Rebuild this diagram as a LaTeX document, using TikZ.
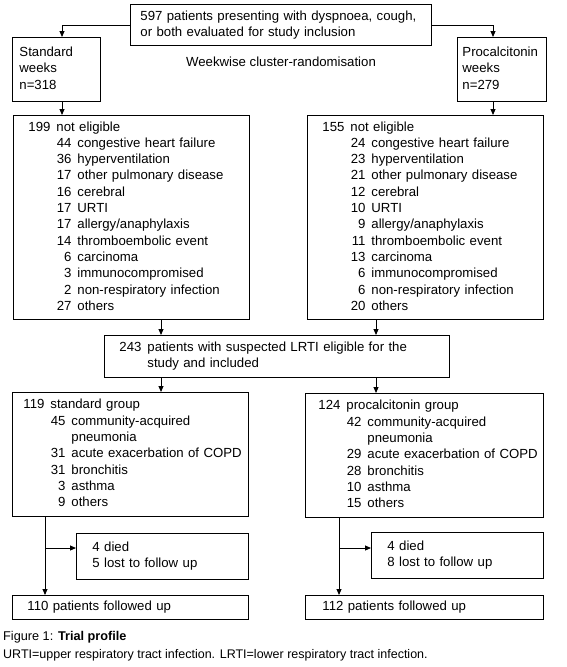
\documentclass[tikz,border=0pt]{standalone}
\usepackage{fontspec}
\setmainfont{Liberation Sans}
\usetikzlibrary{arrows.meta,calc}
\newcommand{\mainfs}{\fontsize{13.2}{16.3}\selectfont}
\newcommand{\hdline}[2]{\makebox[22pt][r]{#1}\hspace{6pt}#2}
\newcommand{\subline}[2]{\hspace{28pt}\makebox[15pt][r]{#1}\hspace{6pt}#2}
\newcommand{\lines}[1]{\begin{tabular}{@{}l@{}}#1\end{tabular}}
\begin{document}
\begin{tikzpicture}[x=1pt,y=-1pt,
  box/.style={draw, line width=0.9pt, anchor=north west, align=left, inner ysep=0pt, font=\mainfs},
  arr/.style={line width=0.9pt, -{Triangle[length=6pt,width=5pt]}},
  lbl/.style={inner sep=0pt, font=\mainfs}]
\useasboundingbox[fill=white] (0,0) rectangle (567,667);

\node[box, minimum width=301pt, minimum height=41pt, inner xsep=10pt, text width=281pt] (top) at (130,4)
  {\lines{597 patients presenting with dyspnoea, cough,\\or both evaluated for study inclusion}};
\node[box, minimum width=88pt, minimum height=64pt, inner xsep=7pt, text width=74pt] (std) at (12,37)
  {\lines{Standard\\weeks\\n=318}};
\node[box, minimum width=89pt, minimum height=64pt, inner xsep=5pt, text width=79pt] (proc) at (457,37)
  {\lines{Procalcitonin\\weeks\\n=279}};
\node[lbl] (rand) at (281,62) {Weekwise cluster-randomisation};

\node[box, minimum width=236pt, minimum height=204pt, inner xsep=15pt, text width=206pt] (ne1) at (13,115)
  {\lines{\hdline{199}{not eligible}\\
  \subline{44}{congestive heart failure}\\
  \subline{36}{hyperventilation}\\
  \subline{17}{other pulmonary disease}\\
  \subline{16}{cerebral}\\
  \subline{17}{URTI}\\
  \subline{17}{allergy/anaphylaxis}\\
  \subline{14}{thromboembolic event}\\
  \subline{6}{carcinoma}\\
  \subline{3}{immunocompromised}\\
  \subline{2}{non-respiratory infection}\\
  \subline{27}{others}}};
\node[box, minimum width=236pt, minimum height=204pt, inner xsep=15pt, text width=206pt] (ne2) at (307,115)
  {\lines{\hdline{155}{not eligible}\\
  \subline{24}{congestive heart failure}\\
  \subline{23}{hyperventilation}\\
  \subline{21}{other pulmonary disease}\\
  \subline{12}{cerebral}\\
  \subline{10}{URTI}\\
  \subline{9}{allergy/anaphylaxis}\\
  \subline{11}{thromboembolic event}\\
  \subline{13}{carcinoma}\\
  \subline{6}{immunocompromised}\\
  \subline{6}{non-respiratory infection}\\
  \subline{20}{others}}};

\node[box, minimum width=345pt, minimum height=42pt, inner xsep=15pt, text width=315pt] (inc) at (104,335)
  {\lines{\hdline{243}{patients with suspected LRTI eligible for the}\\
  \hdline{}{study and included}}};

\node[box, minimum width=236pt, minimum height=124pt, inner xsep=10pt, text width=216pt] (grp1) at (12,392)
  {\lines{\hdline{119}{standard group}\\
  \subline{45}{community-acquired}\\
  \subline{}{pneumonia}\\
  \subline{31}{acute exacerbation of COPD}\\
  \subline{31}{bronchitis}\\
  \subline{3}{asthma}\\
  \subline{9}{others}}};
\node[box, minimum width=238pt, minimum height=124pt, inner xsep=13pt, text width=212pt] (grp2) at (305,393)
  {\lines{\hdline{124}{procalcitonin group}\\
  \subline{42}{community-acquired}\\
  \subline{}{pneumonia}\\
  \subline{29}{acute exacerbation of COPD}\\
  \subline{28}{bronchitis}\\
  \subline{10}{asthma}\\
  \subline{15}{others}}};

\node[box, minimum width=172pt, minimum height=46pt, inner xsep=16pt, text width=140pt] (died1) at (76,533)
  {\lines{4 died\\5 lost to follow up}};
\node[box, minimum width=172pt, minimum height=46pt, inner xsep=16pt, text width=140pt] (died2) at (371,532)
  {\lines{4 died\\8 lost to follow up}};

\node[box, minimum width=236pt, minimum height=24pt, inner xsep=15pt, text width=206pt] (fu1) at (12,595)
  {110 patients followed up};
\node[box, minimum width=238pt, minimum height=24pt, inner xsep=17pt, text width=204pt] (fu2) at (305,595)
  {112 patients followed up};

\node[anchor=west, inner sep=0pt, font=\fontsize{12.7}{14}\selectfont] (cap) at (3,637)
  {Figure 1: \textbf{Trial profile}};
\node[anchor=west, inner sep=0pt, font=\fontsize{12.5}{14}\selectfont] (foot) at (3,655)
  {URTI=upper respiratory tract infection. LRTI=lower respiratory tract infection.};

\coordinate (sx) at (62,0);
\coordinate (px) at (493,0);
\coordinate (cL) at (161,0);
\coordinate (cR) at (376,0);
\coordinate (gl) at (45,548);
\coordinate (gr) at (339,548);

\draw[arr] (top.west) -| (std.north -| sx);
\draw[arr] (top.east) -| (proc.north -| px);
\draw[arr] (std.south -| sx) -- (ne1.north -| sx);
\draw[arr] (proc.south -| px) -- (ne2.north -| px);
\draw[arr] (ne1.south -| cL) -- (inc.north -| cL);
\draw[arr] (ne2.south -| cR) -- (inc.north -| cR);
\draw[arr] (inc.south -| cL) -- (grp1.north -| cL);
\draw[arr] (inc.south -| cR) -- (grp2.north -| cR);
\draw[arr] (grp1.south -| gl) -- (fu1.north -| gl);
\draw[arr] (gl) -- (gl -| died1.west);
\draw[arr] (grp2.south -| gr) -- (fu2.north -| gr);
\draw[arr] (gr) -- (gr -| died2.west);
\end{tikzpicture}
\end{document}
